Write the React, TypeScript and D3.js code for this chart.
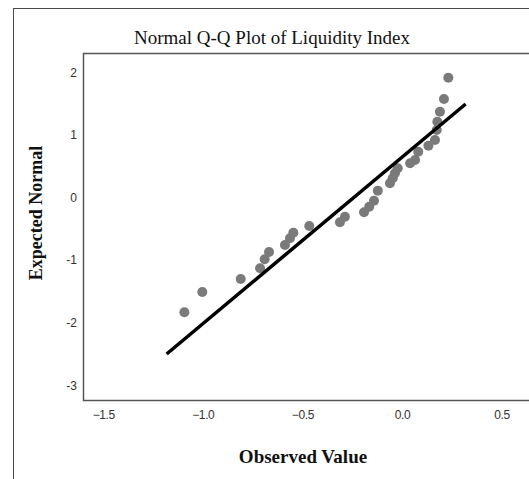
import { useEffect, useRef } from 'react';
import * as d3 from 'd3';

const observed = [
  -1.095, -1.005, -0.812, -0.715, -0.692, -0.670, -0.590, -0.565, -0.548, -0.468,
  -0.314, -0.289, -0.193, -0.167, -0.143, -0.124, -0.063, -0.049, -0.038, -0.024,
  0.038, 0.063, 0.079, 0.130, 0.163, 0.172, 0.175, 0.188, 0.208, 0.230,
];
const expected = [
  -1.834, -1.510, -1.302, -1.131, -0.987, -0.871, -0.759, -0.652, -0.562, -0.455,
  -0.396, -0.307, -0.236, -0.147, -0.051, 0.109, 0.227, 0.307, 0.387, 0.466,
  0.546, 0.599, 0.732, 0.827, 0.919, 1.078, 1.211, 1.371, 1.573, 1.914,
];
// reference line end points
const lineX = [-1.184, 0.317];
const lineY = [-2.50, 1.494];

const xTicks = [-1.5, -1.0, -0.5, 0.0, 0.5];
const yTicks = [2, 1, 0, -1, -2, -3];

export default function App() {
  const svgRef = useRef<SVGSVGElement>(null);

  useEffect(() => {
    if (!svgRef.current) return;
    const width = 529;
    const height = 479;
    const svg = d3.select(svgRef.current);
    svg.selectAll("*").remove();

    const x = d3.scaleLinear().domain([0, 1]).range([402.5, 601.7]);
    const y = d3.scaleLinear().domain([0, 1]).range([197.5, 134.9]);

    const plotLeft = 83.5, plotTop = 53.5, plotBottom = 400.5;

    // outer frame
    svg.append("rect")
      .attr("x", 13.5).attr("y", 8.5)
      .attr("width", width + 20).attr("height", height + 20)
      .attr("fill", "none").attr("stroke", "#4a4a4a").attr("stroke-width", 1);

    // title
    svg.append("text")
      .attr("x", 272).attr("y", 44)
      .attr("text-anchor", "middle")
      .attr("font-family", "Liberation Serif, serif")
      .attr("font-size", "19px")
      .attr("fill", "#111")
      .text("Normal Q-Q Plot of Liquidity Index");

    // plot frame
    svg.append("rect")
      .attr("x", plotLeft).attr("y", plotTop)
      .attr("width", width + 20).attr("height", plotBottom - plotTop)
      .attr("fill", "none").attr("stroke", "#555").attr("stroke-width", 1.5);

    const tickFont = "Liberation Sans, sans-serif";

    svg.append("g").selectAll("text").data(yTicks).join("text")
      .attr("x", 77).attr("y", d => y(d))
      .attr("dy", "0.35em")
      .attr("text-anchor", "end")
      .attr("font-family", tickFont).attr("font-size", "12px").attr("fill", "#333")
      .text(d => String(d));

    svg.append("g").selectAll("text").data(xTicks).join("text")
      .attr("x", d => x(d)).attr("y", 419)
      .attr("text-anchor", "middle")
      .attr("font-family", tickFont).attr("font-size", "12px").attr("fill", "#333")
      .attr("letter-spacing", "-0.4px")
      .text(d => d3.format(".1f")(d));

    // axis titles
    svg.append("text")
      .attr("x", 303).attr("y", 463)
      .attr("text-anchor", "middle")
      .attr("font-family", "Liberation Serif, serif")
      .attr("font-weight", "bold").attr("font-size", "19px").attr("fill", "#111")
      .text("Observed Value");

    svg.append("text")
      .attr("transform", "translate(42,213) rotate(-90)")
      .attr("text-anchor", "middle")
      .attr("font-family", "Liberation Serif, serif")
      .attr("font-weight", "bold").attr("font-size", "18px").attr("fill", "#111")
      .text("Expected Normal");

    // points
    svg.append("g").selectAll("circle").data(observed).join("circle")
      .attr("cx", d => x(d))
      .attr("cy", (_, i) => y(expected[i]))
      .attr("r", 5)
      .attr("fill", "#7a7a7a");

    // reference line
    const line = d3.line<number>()
      .x(d => x(d))
      .y((_, i) => y(lineY[i]));
    svg.append("path")
      .attr("d", line(lineX) || "")
      .attr("fill", "none")
      .attr("stroke", "#000")
      .attr("stroke-width", 3.5);
  }, []);

  return (
    <svg ref={svgRef} width={529} height={479}
      style={{ position: 'absolute', left: 0, top: 0, background: '#fff' }} />
  );
}
